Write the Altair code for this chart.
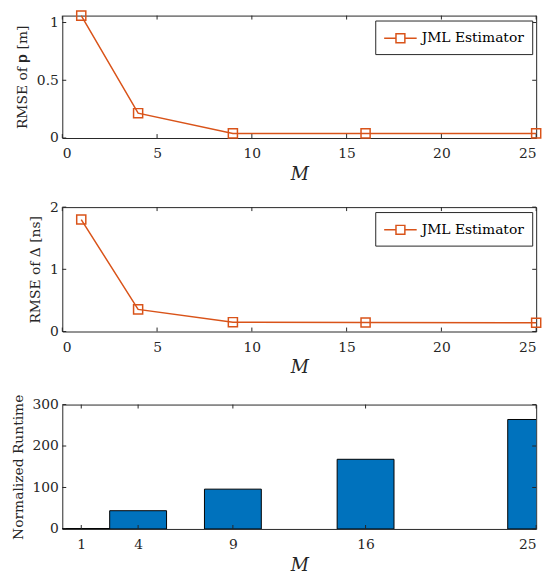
import altair as alt
import pandas as pd

# ---- data ----
M = [1, 4, 9, 16, 25]
rmse_p = [1.06, 0.215, 0.04, 0.04, 0.04]
rmse_delta = [1.80, 0.356, 0.15, 0.145, 0.14]
runtime = [1, 44, 96, 168, 264]
series_name = "JML Estimator"

xticks_line = [0, 5, 10, 15, 20, 25]
yticks_p = [0, 0.5, 1]
yticks_d = [0, 1, 2]
xticks_bar = [1, 4, 9, 16, 25]
yticks_bar = [0, 100, 200, 300]

# ---- style ----
W = 480
TICK = 4
ORANGE = "#D95319"
BLUE = "#0072BD"
AXC = "#262626"
FONT = "DejaVu Serif"
# legend glyph: line with a square marker (units: sqrt(size)/2 = 9 px)
LEG_PATH = ("M-1.83,0L-0.5,0M0.5,0L1.83,0"
            "M-0.5,-0.5L0.5,-0.5L0.5,0.5L-0.5,0.5Z")


def tick_layers(xfield, xscale, xticks, yfield, yscale, yticks, H):
    xt = pd.DataFrame({xfield: xticks})
    yt = pd.DataFrame({yfield: yticks})
    base = dict(color=AXC, strokeWidth=1)
    xb = alt.Chart(xt).mark_rule(**base).encode(
        x=alt.X(f"{xfield}:Q", scale=xscale),
        y=alt.value(H), y2=alt.value(H - TICK))
    xtp = alt.Chart(xt).mark_rule(**base).encode(
        x=alt.X(f"{xfield}:Q", scale=xscale),
        y=alt.value(0), y2=alt.value(TICK))
    yl = alt.Chart(yt).mark_rule(**base).encode(
        y=alt.Y(f"{yfield}:Q", scale=yscale),
        x=alt.value(0), x2=alt.value(TICK))
    yr = alt.Chart(yt).mark_rule(**base).encode(
        y=alt.Y(f"{yfield}:Q", scale=yscale),
        x=alt.value(W), x2=alt.value(W - TICK))
    return [xb, xtp, yl, yr]


def line_panel(values, ytitle, ydomain, yticks, H):
    df = pd.DataFrame({"M": M, "v": values, "s": [series_name] * len(M)})
    xscale = alt.Scale(domain=[0, 25], nice=False, zero=False)
    yscale = alt.Scale(domain=ydomain, nice=False, zero=False)
    x = alt.X("M:Q", scale=xscale,
              axis=alt.Axis(values=xticks_line, title="M", titleFontStyle="italic",
                            titleFontSize=18, labelExpr="'' + datum.value"))
    y = alt.Y("v:Q", scale=yscale,
              axis=alt.Axis(values=yticks, title=ytitle, labelExpr="'' + datum.value"))
    line = alt.Chart(df).mark_line(strokeWidth=1.5).encode(
        x=x, y=y,
        color=alt.Color("s:N", scale=alt.Scale(range=[ORANGE]),
                        legend=alt.Legend(title=None, orient="top-right", offset=4.5,
                                          symbolType=LEG_PATH, symbolSize=324,
                                          symbolStrokeWidth=1.5,
                                          symbolFillColor="transparent",
                                          symbolOffset=7.5,
                                          padding=8, labelOffset=11.5)))
    pts = alt.Chart(df).mark_point(shape="square", size=85, filled=False,
                                   color=ORANGE, strokeWidth=1.5, opacity=1).encode(
        x=alt.X("M:Q", scale=xscale),
        y=alt.Y("v:Q", scale=yscale))
    layers = [line] + tick_layers("M", xscale, xticks_line, "v", yscale, yticks, H) + [pts]
    return alt.layer(*layers).properties(width=W, height=H)


def bar_panel(H):
    df = pd.DataFrame({"M": M, "r": runtime})
    xscale = alt.Scale(domain=[0, 25], nice=False, zero=False)
    yscale = alt.Scale(domain=[0, 300], nice=False)
    bars = alt.Chart(df).transform_calculate(
        lo="datum.M - 1.5", hi="datum.M + 1.5"
    ).mark_bar(clip=True, color=BLUE, stroke="#000000", strokeWidth=1).encode(
        x=alt.X("lo:Q", scale=xscale,
                axis=alt.Axis(values=xticks_bar, title="M", titleFontStyle="italic",
                              titleFontSize=18)),
        x2="hi:Q",
        y=alt.Y("r:Q", scale=yscale,
                axis=alt.Axis(values=yticks_bar, title="Normalized Runtime")),
        y2=alt.datum(0))
    layers = [bars] + tick_layers("lo", xscale, xticks_bar, "r", yscale, yticks_bar, H)
    return alt.layer(*layers).properties(width=W, height=H)


p1 = line_panel(rmse_p, "RMSE of 𝐩 [m]", [0, 1.06], yticks_p, 124)
p2 = line_panel(rmse_delta, "RMSE of Δ [ns]", [0, 2], yticks_d, 126)
p3 = bar_panel(126)

chart = alt.vconcat(p1, p2, p3, spacing=15).resolve_scale(
    color="independent"
).resolve_legend(
    color="independent"
).properties(
    padding={"left": 2, "top": -5, "right": 4, "bottom": 0},
    background="white",
).configure_view(
    stroke=AXC, strokeWidth=1
).configure_axis(
    labelFont=FONT, labelFontSize=14, labelColor=AXC,
    titleFont=FONT, titleFontSize=14, titleColor=AXC, titleFontWeight="normal",
    domain=False, ticks=False, tickSize=0, grid=False,
).configure_axisX(
    labelPadding=9, titlePadding=5,
).configure_axisY(
    labelPadding=4, titlePadding=7,
).configure_legend(
    labelFont=FONT, labelFontSize=14, labelColor="#000000",
    strokeColor=AXC, fillColor="white", cornerRadius=0,
)

chart.save("out.html", embed_options={"renderer": "svg", "actions": False})
